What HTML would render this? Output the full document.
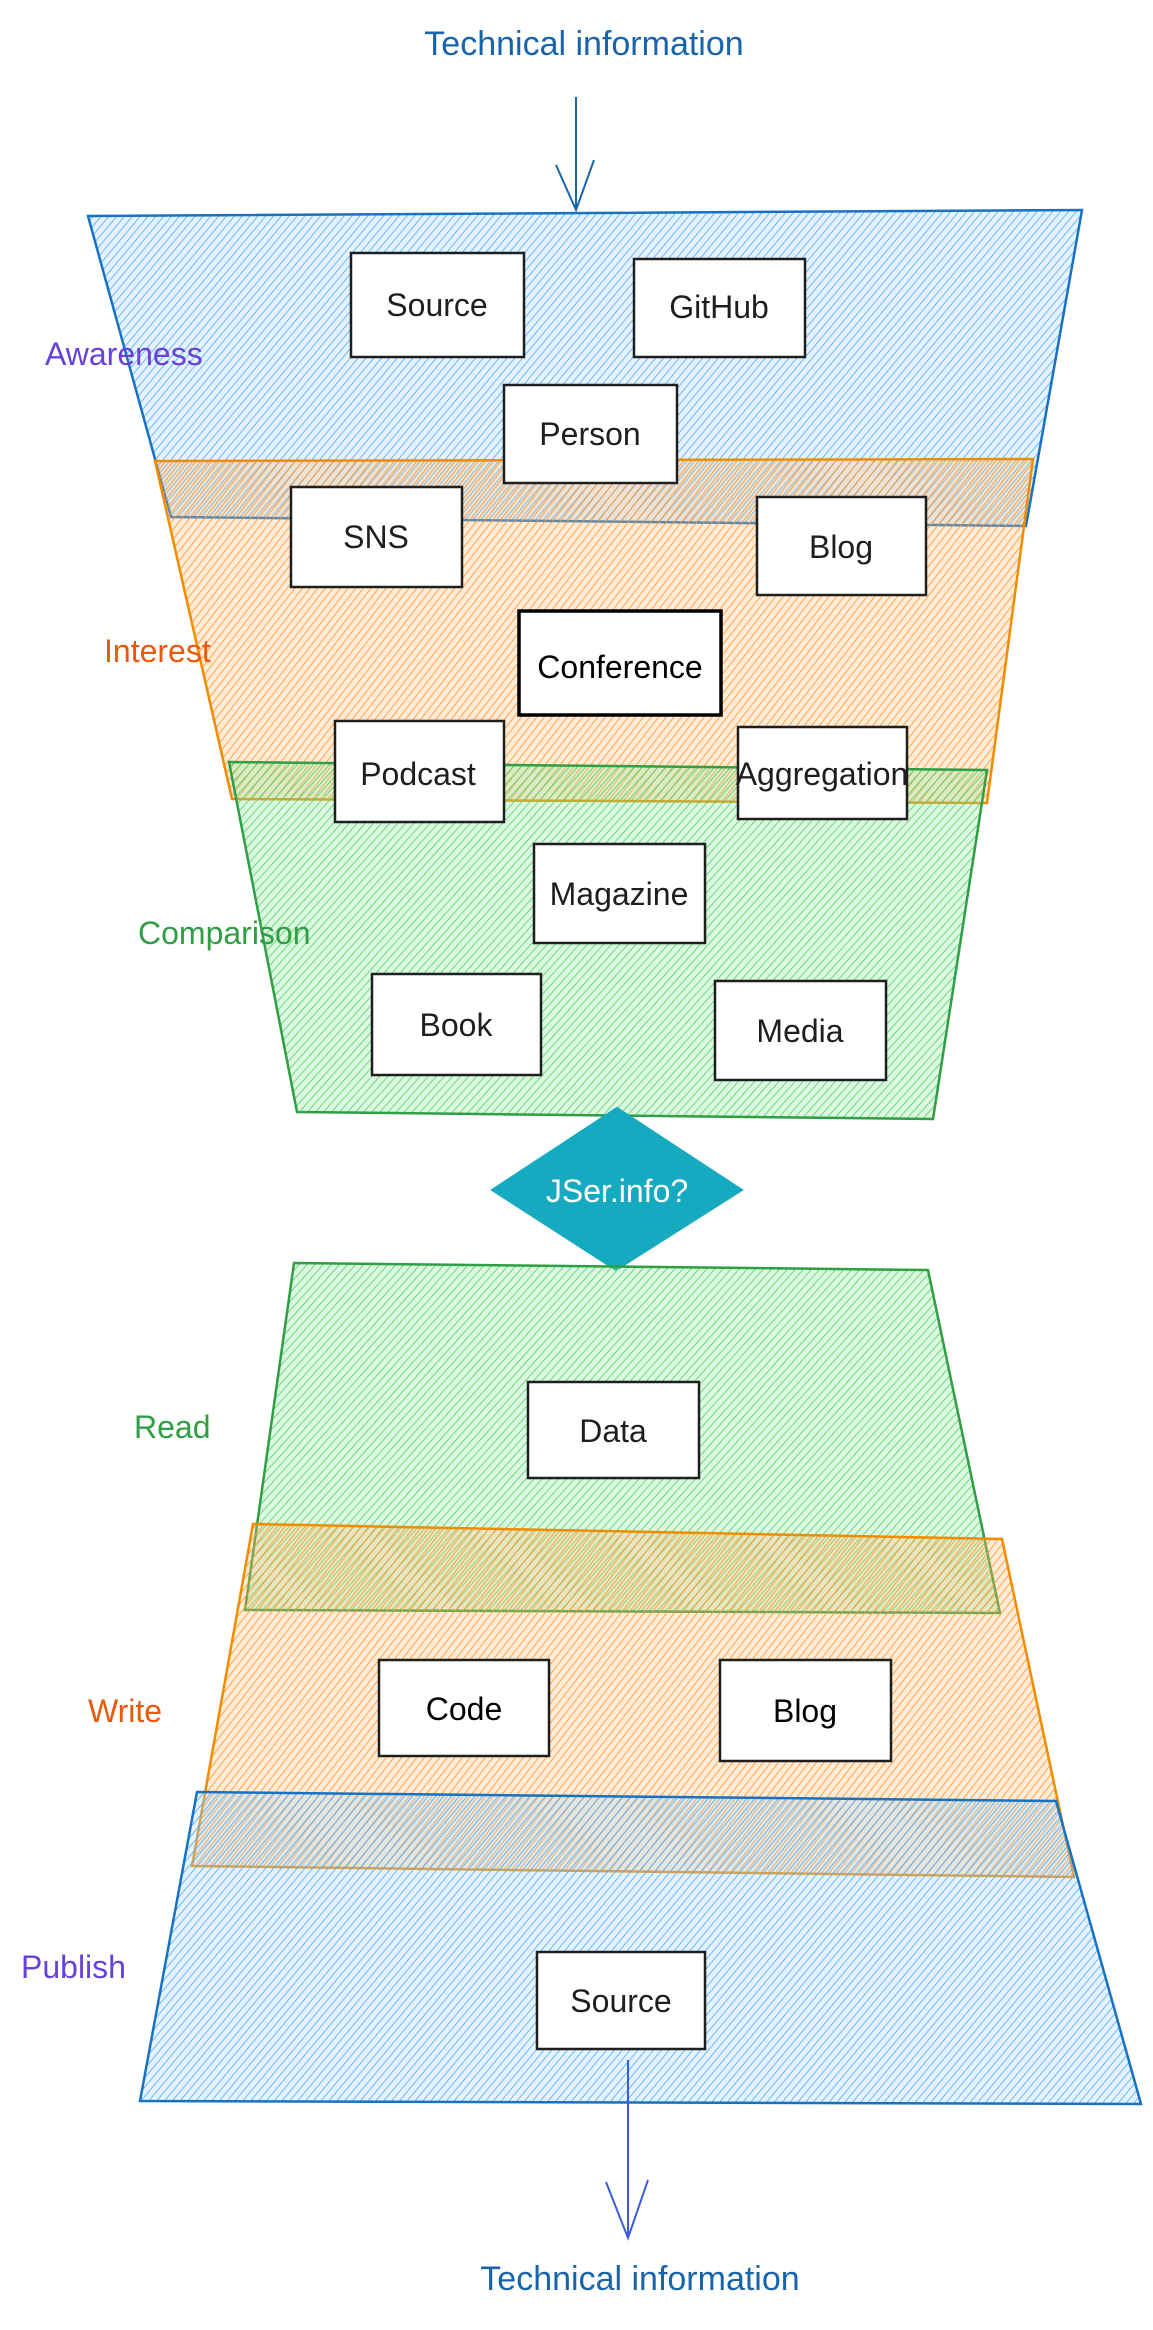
<!DOCTYPE html>
<html><head><meta charset="utf-8"><style>
html,body{margin:0;padding:0;background:#fff;}
svg{display:block}
text{font-family:"Liberation Sans",sans-serif;}
</style></head><body>
<svg width="1153" height="2330" viewBox="0 0 1153 2330" xmlns="http://www.w3.org/2000/svg">
<defs>
<pattern id="hb" width="6" height="6" patternUnits="userSpaceOnUse" patternTransform="rotate(40)">
<line x1="0" y1="0" x2="0" y2="6" stroke="#4dabf7" stroke-width="1.6"/></pattern>
<pattern id="ho" width="6" height="6" patternUnits="userSpaceOnUse" patternTransform="rotate(38)">
<line x1="0" y1="0" x2="0" y2="6" stroke="#ff922b" stroke-width="1.6"/></pattern>
<pattern id="hg" width="6" height="6" patternUnits="userSpaceOnUse" patternTransform="rotate(42)">
<line x1="0" y1="0" x2="0" y2="6" stroke="#51cf66" stroke-width="1.6"/></pattern>
</defs>
<rect width="1153" height="2330" fill="#fff"/>

<text x="584" y="55" text-anchor="middle" font-size="34" fill="#1864ab">Technical information</text>
<line x1="576" y1="97" x2="576" y2="210" stroke="#1864ab" stroke-width="2"/>
<path d="M556 165 L576 210 L594 160" fill="none" stroke="#1864ab" stroke-width="2"/>

<polygon points="88,216 1082,210 1026,526 171,517" fill="#a5d8ff" fill-opacity="0.3"/>
<polygon points="88,216 1082,210 1026,526 171,517" fill="url(#hb)"/>
<polygon points="88,216 1082,210 1026,526 171,517" fill="none" stroke="#1971c2" stroke-width="2.5"/>
<polygon points="155,461 1033,459 987,803 232,799" fill="#ffc078" fill-opacity="0.3"/>
<polygon points="155,461 1033,459 987,803 232,799" fill="url(#ho)"/>
<polygon points="155,461 1033,459 987,803 232,799" fill="none" stroke="#f08c00" stroke-width="2.5"/>
<polygon points="229,762 987,770 933,1119 297,1112" fill="#8ce99a" fill-opacity="0.3"/>
<polygon points="229,762 987,770 933,1119 297,1112" fill="url(#hg)"/>
<polygon points="229,762 987,770 933,1119 297,1112" fill="none" stroke="#2f9e44" stroke-width="2.5"/>

<text x="45" y="365" font-size="32" fill="#6741d9">Awareness</text>
<text x="104" y="662" font-size="32" fill="#e8590c">Interest</text>
<text x="138" y="944" font-size="32" fill="#2f9e44">Comparison</text>

<g fill="#fff" stroke="#1e1e1e" stroke-width="2.5">
<rect x="351" y="253" width="173" height="104"/>
<rect x="634" y="259" width="171" height="98"/>
<rect x="504" y="385" width="173" height="98"/>
<rect x="291" y="487" width="171" height="100"/>
<rect x="757" y="497" width="169" height="98"/>
<rect x="519" y="611" width="202" height="104" stroke="#000" stroke-width="3.5"/>
<rect x="335" y="721" width="169" height="101"/>
<rect x="738" y="727" width="169" height="92"/>
<rect x="534" y="844" width="171" height="99"/>
<rect x="372" y="974" width="169" height="101"/>
<rect x="715" y="981" width="171" height="99"/>
</g>
<g font-size="32" fill="#1e1e1e" text-anchor="middle">
<text x="437" y="316">Source</text>
<text x="719" y="318">GitHub</text>
<text x="590" y="445">Person</text>
<text x="376" y="548">SNS</text>
<text x="841" y="558">Blog</text>
<text x="620" y="678" fill="#000">Conference</text>
<text x="418" y="785">Podcast</text>
<text x="822" y="785">Aggregation</text>
<text x="619" y="905">Magazine</text>
<text x="456" y="1036">Book</text>
<text x="800" y="1042">Media</text>
</g>

<polygon points="617,1108 742,1190 616,1270 492,1190" fill="#15aabf" stroke="#15aabf" stroke-width="2"/>
<text x="617" y="1202" text-anchor="middle" font-size="32" fill="#fff">JSer.info?</text>

<polygon points="294,1263 928,1270 1000,1613 245,1610" fill="#8ce99a" fill-opacity="0.3"/>
<polygon points="294,1263 928,1270 1000,1613 245,1610" fill="url(#hg)"/>
<polygon points="294,1263 928,1270 1000,1613 245,1610" fill="none" stroke="#2f9e44" stroke-width="2.5"/>
<polygon points="253,1524 1002,1539 1074,1877 192,1866" fill="#ffc078" fill-opacity="0.3"/>
<polygon points="253,1524 1002,1539 1074,1877 192,1866" fill="url(#ho)"/>
<polygon points="253,1524 1002,1539 1074,1877 192,1866" fill="none" stroke="#f08c00" stroke-width="2.5"/>
<polygon points="197,1792 1056,1801 1141,2104 140,2101" fill="#a5d8ff" fill-opacity="0.3"/>
<polygon points="197,1792 1056,1801 1141,2104 140,2101" fill="url(#hb)"/>
<polygon points="197,1792 1056,1801 1141,2104 140,2101" fill="none" stroke="#1971c2" stroke-width="2.5"/>

<text x="134" y="1438" font-size="32" fill="#2f9e44">Read</text>
<text x="88" y="1722" font-size="32" fill="#e8590c">Write</text>
<text x="21" y="1978" font-size="32" fill="#6741d9">Publish</text>

<g fill="#fff" stroke="#1e1e1e" stroke-width="2.5">
<rect x="528" y="1382" width="171" height="96"/>
<rect x="379" y="1660" width="170" height="96"/>
<rect x="720" y="1660" width="171" height="101"/>
<rect x="537" y="1952" width="168" height="97"/>
</g>
<g font-size="32" fill="#1e1e1e" text-anchor="middle">
<text x="613" y="1442">Data</text>
<text x="464" y="1720" fill="#000">Code</text>
<text x="805" y="1722" fill="#000">Blog</text>
<text x="621" y="2012">Source</text>
</g>

<line x1="628" y1="2060" x2="628" y2="2238" stroke="#3b5bdb" stroke-width="2"/>
<path d="M606 2182 L628 2238 L648 2180" fill="none" stroke="#3b5bdb" stroke-width="2"/>
<text x="640" y="2290" text-anchor="middle" font-size="34" fill="#1864ab">Technical information</text>
</svg>
</body></html>
